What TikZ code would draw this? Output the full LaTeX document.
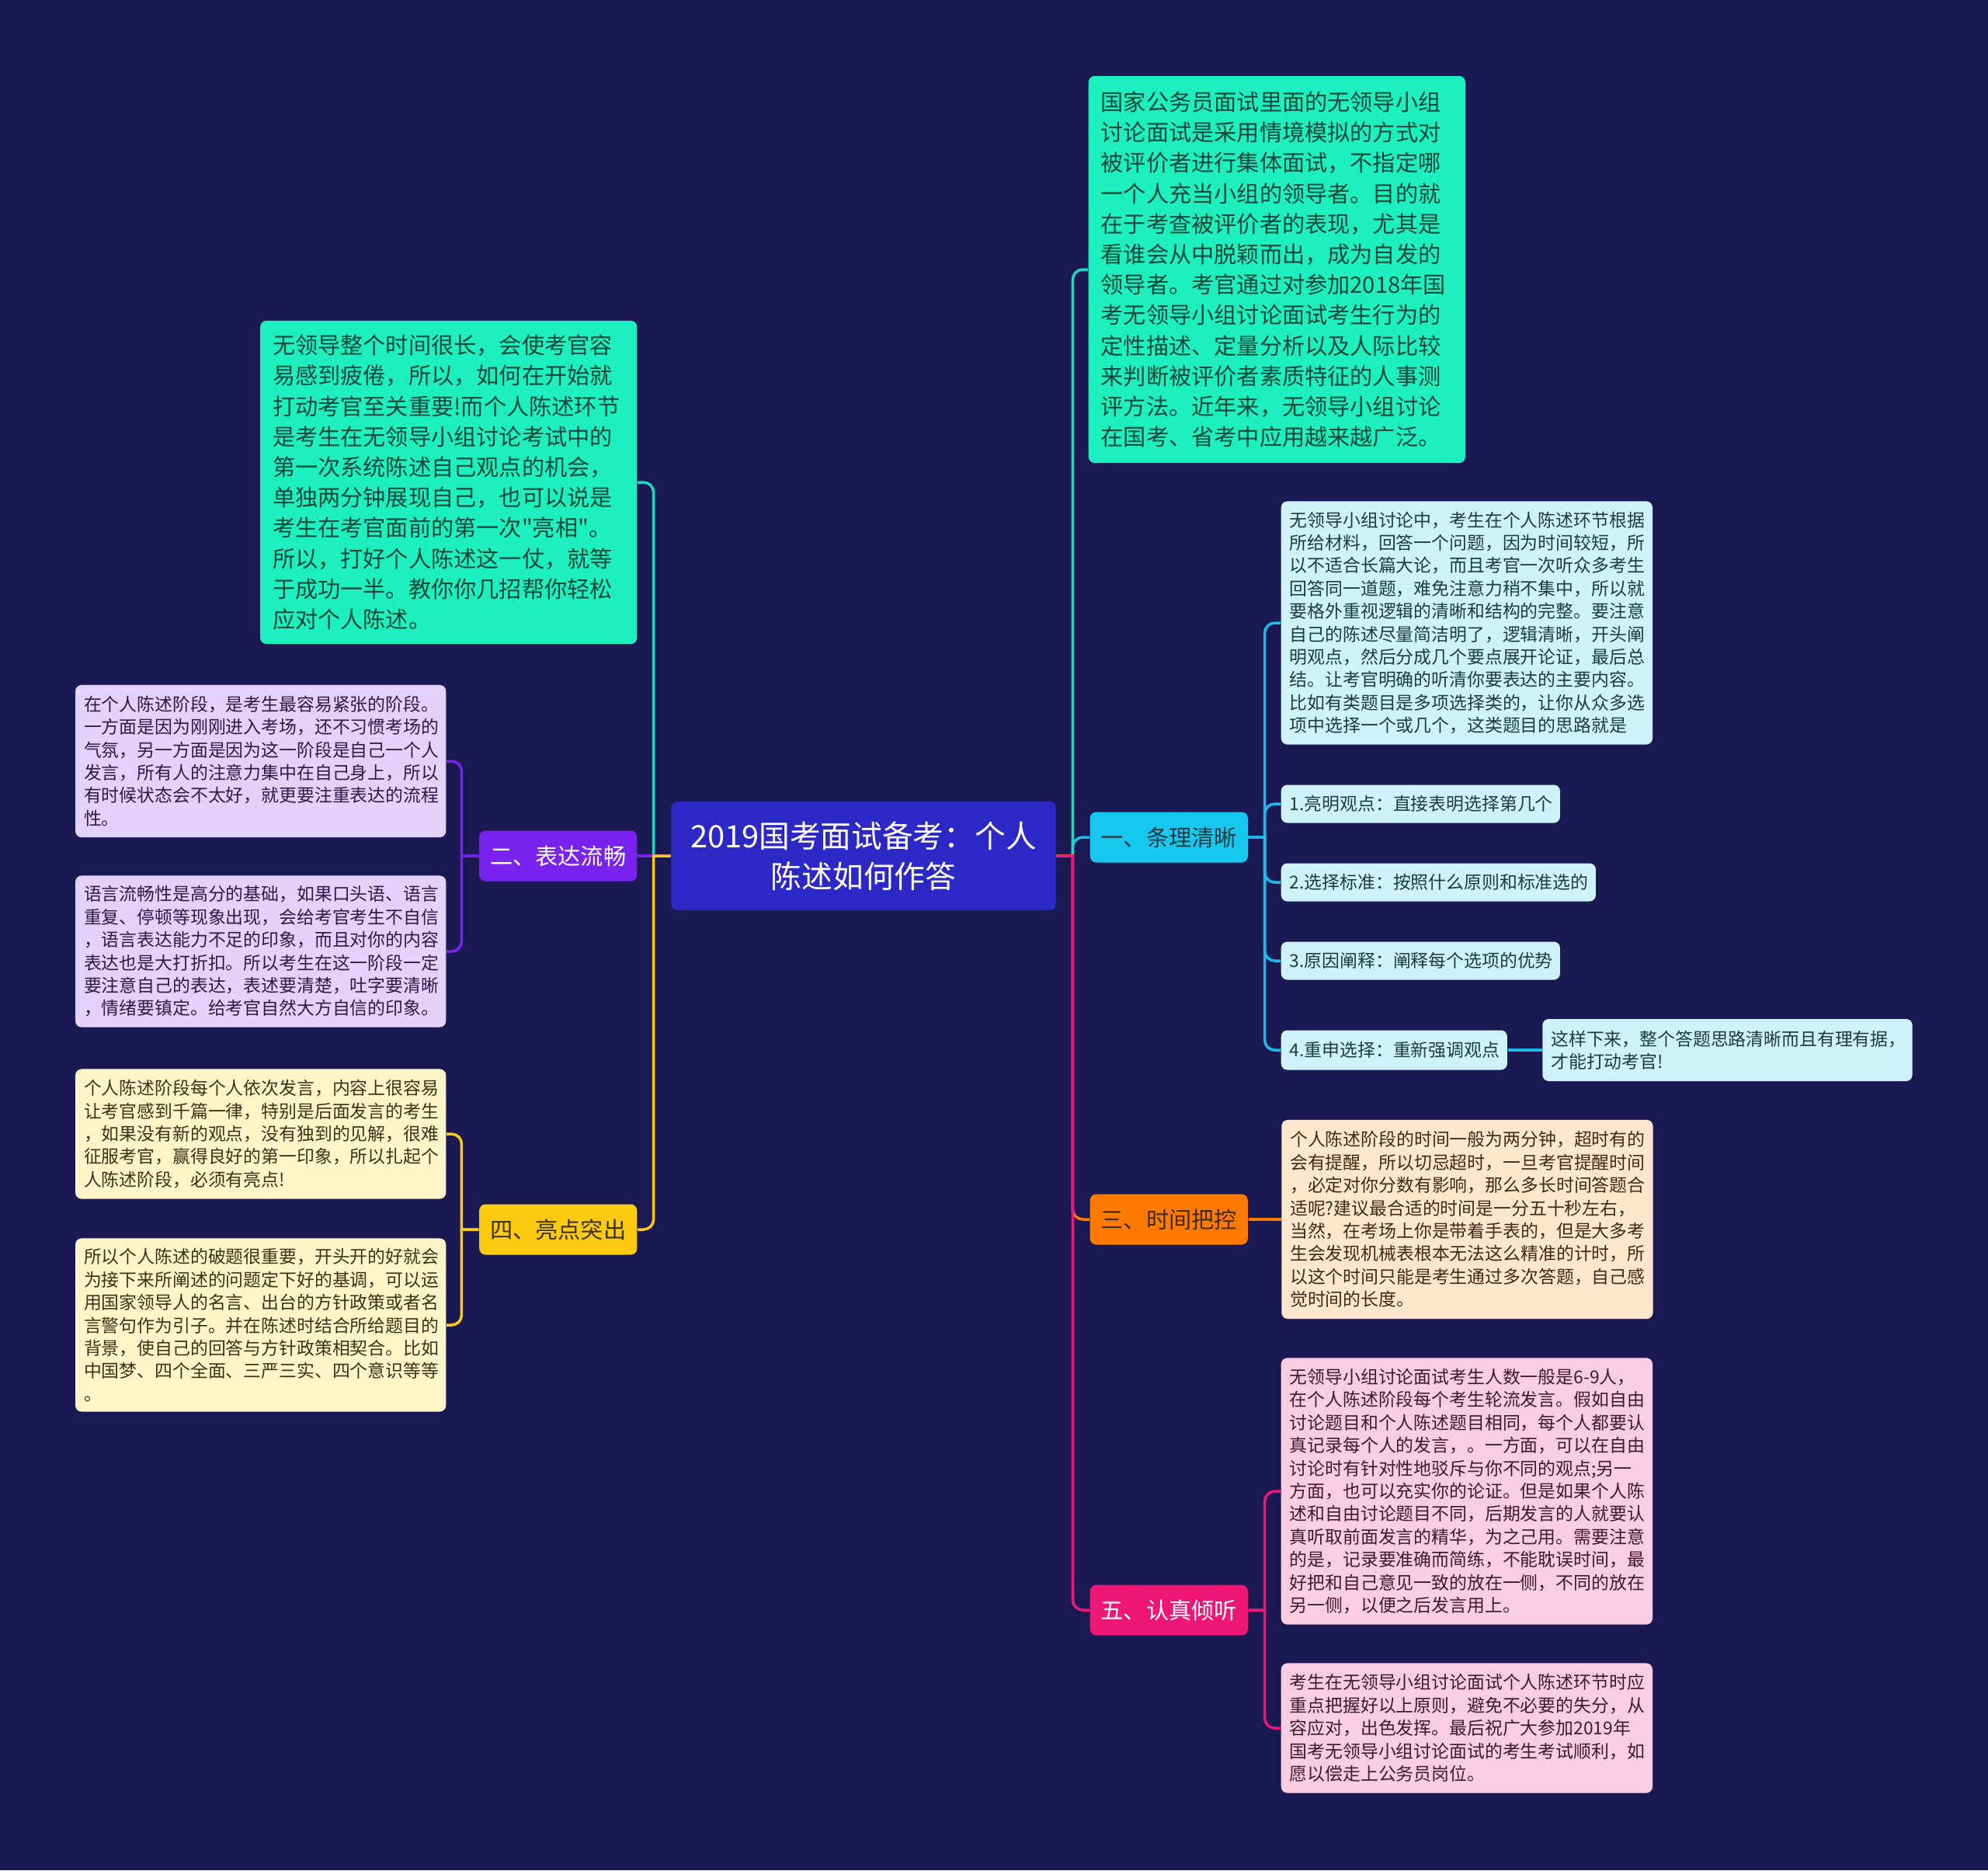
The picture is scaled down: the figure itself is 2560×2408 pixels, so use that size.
\documentclass[tikz,border=0pt]{standalone}
\usepackage{fontspec}
\newfontfamily\cjk{Noto Sans CJK SC}
\usetikzlibrary{positioning}
\definecolor{navy}{HTML}{1B1953}
\definecolor{rootblue}{HTML}{2B28C6}
\definecolor{tealfill}{HTML}{1DF0BE}
\definecolor{tealline}{HTML}{22D6C0}
\definecolor{tealtext}{HTML}{12483C}
\definecolor{cyanfill}{HTML}{17C8EE}
\definecolor{cyanline}{HTML}{1FB8EA}
\definecolor{cyanleaf}{HTML}{CFF3FB}
\definecolor{cyantext}{HTML}{1E3A44}
\definecolor{purplefill}{HTML}{7A22EE}
\definecolor{lilac}{HTML}{E4D2FA}
\definecolor{lilactext}{HTML}{2E1A4A}
\definecolor{yellowfill}{HTML}{FCCB0F}
\definecolor{cream}{HTML}{FFF5C8}
\definecolor{creamtext}{HTML}{3B3318}
\definecolor{orangefill}{HTML}{FF7B00}
\definecolor{peach}{HTML}{FDE8CE}
\definecolor{peachtext}{HTML}{3E2A16}
\definecolor{pinkfill}{HTML}{EE1777}
\definecolor{pinkleaf}{HTML}{FBCDE3}
\definecolor{pinktext}{HTML}{3E1A2A}

\begin{document}
\begin{tikzpicture}[x=0.01cm,y=-0.01cm,
  every node/.style={font=\cjk},
  rootbox/.style={fill=rootblue,text=white,rounded corners=0.08cm,align=center,minimum width=4.95cm,minimum height=1.4cm,inner sep=0pt,font=\cjk\fontsize{11.3}{14.8}\selectfont},
  topic/.style={rounded corners=0.08cm,minimum width=2.03cm,minimum height=0.65cm,inner sep=0pt,font=\cjk\fontsize{8.3}{10}\selectfont},
  bigbox/.style={fill=tealfill,text=tealtext,rounded corners=0.08cm,align=left,text width=4.53cm,inner xsep=0.16cm,inner ysep=0pt,font=\cjk\fontsize{8.3}{11.15}\selectfont},
  leaf/.style={rounded corners=0.08cm,align=left,inner xsep=0.11cm,inner ysep=0pt,font=\cjk\fontsize{6.5}{8.36}\selectfont},
  link/.style={line width=1pt},
  elbow/.style={rounded corners=0.13cm}]

\useasboundingbox (0,0) rectangle (2560,2408);
\fill[navy] (0,0) rectangle (2560,2408);

% centre
\node[rootbox] (root) at (1112,1102) {2019国考面试备考：个人\\陈述如何作答};

% right side
\node[bigbox,minimum height=4.98cm,anchor=west] (introR) at (1401,347) {国家公务员面试里面的无领导小组\\讨论面试是采用情境模拟的方式对\\被评价者进行集体面试，不指定哪\\一个人充当小组的领导者。目的就\\在于考查被评价者的表现，尤其是\\看谁会从中脱颖而出，成为自发的\\领导者。考官通过对参加2018年国\\考无领导小组讨论面试考生行为的\\定性描述、定量分析以及人际比较\\来判断被评价者素质特征的人事测\\评方法。近年来，无领导小组讨论\\在国考、省考中应用越来越广泛。};
\node[topic,fill=cyanfill,text=cyantext,anchor=west] (one) at (1403,1078) {一、条理清晰};
\node[topic,fill=orangefill,text=peachtext,anchor=west] (three) at (1403,1570) {三、时间把控};
\node[topic,fill=pinkfill,text=white,anchor=west] (five) at (1403,2073) {五、认真倾听};

% left side
\node[bigbox,minimum height=4.16cm,anchor=east] (introL) at (821,621) {无领导整个时间很长，会使考官容\\易感到疲倦，所以，如何在开始就\\打动考官至关重要!而个人陈述环节\\是考生在无领导小组讨论考试中的\\第一次系统陈述自己观点的机会，\\单独两分钟展现自己，也可以说是\\考生在考官面前的第一次"亮相"。\\所以，打好个人陈述这一仗，就等\\于成功一半。教你你几招帮你轻松\\应对个人陈述。};
\node[topic,fill=purplefill,text=white,anchor=east] (two) at (821,1102) {二、表达流畅};
\node[topic,fill=yellowfill,text=creamtext,anchor=east] (four) at (821,1583) {四、亮点突出};

% leaves of one
\node[leaf,fill=cyanleaf,text=cyantext,text width=4.56cm,minimum height=3.13cm,anchor=west] (c0) at (1649,802) {无领导小组讨论中，考生在个人陈述环节根据\\所给材料，回答一个问题，因为时间较短，所\\以不适合长篇大论，而且考官一次听众多考生\\回答同一道题，难免注意力稍不集中，所以就\\要格外重视逻辑的清晰和结构的完整。要注意\\自己的陈述尽量简洁明了，逻辑清晰，开头阐\\明观点，然后分成几个要点展开论证，最后总\\结。让考官明确的听清你要表达的主要内容。\\比如有类题目是多项选择类的，让你从众多选\\项中选择一个或几个，这类题目的思路就是};
\node[leaf,fill=cyanleaf,text=cyantext,text width=3.37cm,minimum height=0.49cm,anchor=west] (c1) at (1649,1035) {1.亮明观点：直接表明选择第几个};
\node[leaf,fill=cyanleaf,text=cyantext,text width=3.83cm,minimum height=0.49cm,anchor=west] (c2) at (1649,1136) {2.选择标准：按照什么原则和标准选的};
\node[leaf,fill=cyanleaf,text=cyantext,text width=3.37cm,minimum height=0.49cm,anchor=west] (c3) at (1649,1237) {3.原因阐释：阐释每个选项的优势};
\node[leaf,fill=cyanleaf,text=cyantext,text width=2.69cm,minimum height=0.51cm,anchor=west] (c4) at (1649,1352) {4.重申选择：重新强调观点};
\node[leaf,fill=cyanleaf,text=cyantext,text width=4.54cm,minimum height=0.8cm,right=0.44cm of c4] (c4a) {这样下来，整个答题思路清晰而且有理有据，\\才能打动考官!};

% leaf of three
\node[leaf,fill=peach,text=peachtext,text width=4.56cm,minimum height=2.56cm,right=0.42cm of three] (t1) {个人陈述阶段的时间一般为两分钟，超时有的\\会有提醒，所以切忌超时，一旦考官提醒时间\\，必定对你分数有影响，那么多长时间答题合\\适呢?建议最合适的时间是一分五十秒左右，\\当然，在考场上你是带着手表的，但是大多考\\生会发现机械表根本无法这么精准的计时，所\\以这个时间只能是考生通过多次答题，自己感\\觉时间的长度。};

% leaves of five
\node[leaf,fill=pinkleaf,text=pinktext,text width=4.56cm,minimum height=3.43cm,anchor=west] (f1) at (1649,1920) {无领导小组讨论面试考生人数一般是6-9人，\\在个人陈述阶段每个考生轮流发言。假如自由\\讨论题目和个人陈述题目相同，每个人都要认\\真记录每个人的发言，。一方面，可以在自由\\讨论时有针对性地驳斥与你不同的观点;另一\\方面，也可以充实你的论证。但是如果个人陈\\述和自由讨论题目不同，后期发言的人就要认\\真听取前面发言的精华，为之己用。需要注意\\的是，记录要准确而简练，不能耽误时间，最\\好把和自己意见一致的放在一侧，不同的放在\\另一侧，以便之后发言用上。};
\node[leaf,fill=pinkleaf,text=pinktext,text width=4.56cm,minimum height=1.67cm,anchor=west] (f2) at (1649,2225) {考生在无领导小组讨论面试个人陈述环节时应\\重点把握好以上原则，避免不必要的失分，从\\容应对，出色发挥。最后祝广大参加2019年\\国考无领导小组讨论面试的考生考试顺利，如\\愿以偿走上公务员岗位。};

% leaves of two
\node[leaf,fill=lilac,text=lilactext,text width=4.55cm,minimum height=1.96cm,anchor=east] (p1) at (575,980) {在个人陈述阶段，是考生最容易紧张的阶段。\\一方面是因为刚刚进入考场，还不习惯考场的\\气氛，另一方面是因为这一阶段是自己一个人\\发言，所有人的注意力集中在自己身上，所以\\有时候状态会不太好，就更要注重表达的流程\\性。};
\node[leaf,fill=lilac,text=lilactext,text width=4.55cm,minimum height=1.95cm,anchor=east] (p2) at (575,1225) {语言流畅性是高分的基础，如果口头语、语言\\重复、停顿等现象出现，会给考官考生不自信\\，语言表达能力不足的印象，而且对你的内容\\表达也是大打折扣。所以考生在这一阶段一定\\要注意自己的表达，表述要清楚，吐字要清晰\\，情绪要镇定。给考官自然大方自信的印象。};

% leaves of four
\node[leaf,fill=cream,text=creamtext,text width=4.55cm,minimum height=1.67cm,anchor=east] (y1) at (575,1460) {个人陈述阶段每个人依次发言，内容上很容易\\让考官感到千篇一律，特别是后面发言的考生\\，如果没有新的观点，没有独到的见解，很难\\征服考官，赢得良好的第一印象，所以扎起个\\人陈述阶段，必须有亮点!};
\node[leaf,fill=cream,text=creamtext,text width=4.55cm,minimum height=2.23cm,anchor=east] (y2) at (575,1706) {所以个人陈述的破题很重要，开头开的好就会\\为接下来所阐述的问题定下好的基调，可以运\\用国家领导人的名言、出台的方针政策或者名\\言警句作为引子。并在陈述时结合所给题目的\\背景，使自己的回答与方针政策相契合。比如\\中国梦、四个全面、三严三实、四个意识等等\\。};

% hubs
\coordinate[right=0.21cm of root.east] (rhub);
\coordinate[left=0.22cm of root.west] (lhub);
\coordinate[right=0.21cm of one.east] (chub);
\coordinate[right=0.21cm of five.east] (fhub);
\coordinate[left=0.22cm of two.west] (phub);
\coordinate[left=0.22cm of four.west] (yhub);

% connectors, right
\draw[link,cyanline] (root.east) -- (rhub) [elbow] |- (one.west);
\draw[link,tealline] (root.east) -- (rhub) [elbow] |- (introR.west);
\draw[link,orangefill] (root.east) -- (rhub) [elbow] |- (three.west);
\draw[link,pinkfill] (root.east) -- (rhub) [elbow] |- (five.west);
\foreach \leafname in {c0,c1,c2,c3,c4}
  \draw[link,cyanline] (one.east) -- (chub) [elbow] |- (\leafname.west);
\draw[link,cyanline] (c4) -- (c4a);
\draw[link,orangefill] (three) -- (t1);
\foreach \leafname in {f1,f2}
  \draw[link,pinkfill] (five.east) -- (fhub) [elbow] |- (\leafname.west);

% connectors, left
\draw[link,tealline] (root.west) -- (lhub) [elbow] |- (introL.east);
\draw[link,purplefill] (root.west) -- (two.east);
\draw[link,yellowfill] (root.west) -- (lhub) [elbow] |- (four.east);
\foreach \leafname in {p1,p2}
  \draw[link,purplefill] (two.west) -- (phub) [elbow] |- (\leafname.east);
\foreach \leafname in {y1,y2}
  \draw[link,yellowfill] (four.west) -- (yhub) [elbow] |- (\leafname.east);
\end{tikzpicture}
\end{document}
